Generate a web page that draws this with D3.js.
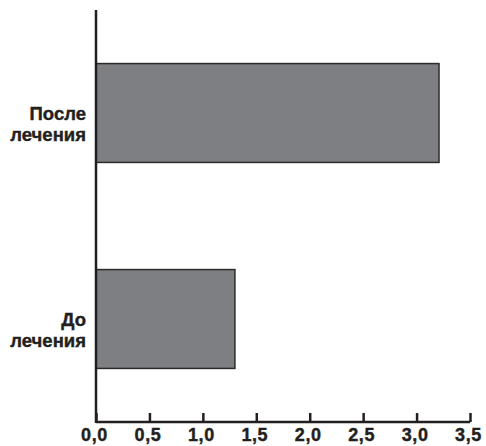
<!DOCTYPE html>
<html>
<head>
  <meta charset="utf-8">
  <script src="https://d3js.org/d3.v7.min.js"></script>
  <style>
    body { margin: 0; background: #fff; }
    text { font-family: "Liberation Sans", Arial, sans-serif; font-weight: bold; fill: #231f20; stroke: #231f20; stroke-width: 0.4px; }
  </style>
</head>
<body>
  <svg id="chart" width="486" height="446"></svg>
  <script>
    // data
    const categories = [["После", "лечения"], ["До", "лечения"]];
    const values = [3.21, 1.30];
    const xTicks = [0, 0.5, 1, 1.5, 2, 2.5, 3, 3.5];

    const svg = d3.select('svg#chart');
    const margins = { left: 96, right: 470, top: 10, bottom: 422 };

    const xScale = d3.scaleLinear().domain([0, 3.5]).range([margins.left, margins.right]);
    const yScale = d3.scaleBand()
      .domain(categories.map(d => d.join(' ')))
      .range([margins.top, margins.bottom])
      .paddingInner(0.52)
      .paddingOuter(0.26);

    const data = categories.map((c, i) => ({ key: c.join(' '), lines: c, value: values[i] }));

    // bars
    svg.selectAll('rect.bar').data(data)
      .join('rect')
      .attr('class', 'bar')
      .attr('x', xScale(0))
      .attr('y', d => yScale(d.key))
      .attr('width', d => xScale(d.value) - xScale(0))
      .attr('height', yScale.bandwidth())
      .attr('fill', '#7e7f83')
      .attr('stroke', '#2b2a2c')
      .attr('stroke-width', 1.5);

    // x axis
    const bottomAxis = d3.axisBottom(xScale)
      .tickValues(xTicks)
      .tickSizeInner(-9)
      .tickSizeOuter(0)
      .tickFormat(d => d3.format('.1f')(d).replace('.', ','));
    const gx = svg.append('g')
      .attr('transform', `translate(0,${margins.bottom})`)
      .call(bottomAxis);
    gx.select('.domain').attr('stroke', '#231f20').attr('stroke-width', 2.5)
      .attr('d', `M${margins.left},0H${margins.right}`);
    gx.selectAll('.tick line').attr('stroke', '#231f20').attr('stroke-width', 2.5);
    gx.selectAll('.tick text')
      .attr('x', -2)
      .attr('y', 6)
      .attr('dy', '0.71em')
      .style('font-size', '18px')
      .style('letter-spacing', '0.6px');

    // y axis line
    svg.append('line')
      .attr('x1', margins.left).attr('x2', margins.left)
      .attr('y1', margins.top).attr('y2', margins.bottom + 1)
      .attr('stroke', '#231f20')
      .attr('stroke-width', 2.5);

    // category labels
    const labels = svg.selectAll('text.cat').data(data)
      .join('text')
      .attr('class', 'cat')
      .attr('text-anchor', 'end')
      .style('font-size', '18.5px');
    labels.selectAll('tspan').data(d => d.lines.map((l, j) => ({ l, j, key: d.key })))
      .join('tspan')
      .attr('x', 86)
      .attr('y', t => yScale(t.key) + yScale.bandwidth() / 2 + 6.5 + t.j * 21)
      .text(t => t.l);
  </script>
</body>
</html>
